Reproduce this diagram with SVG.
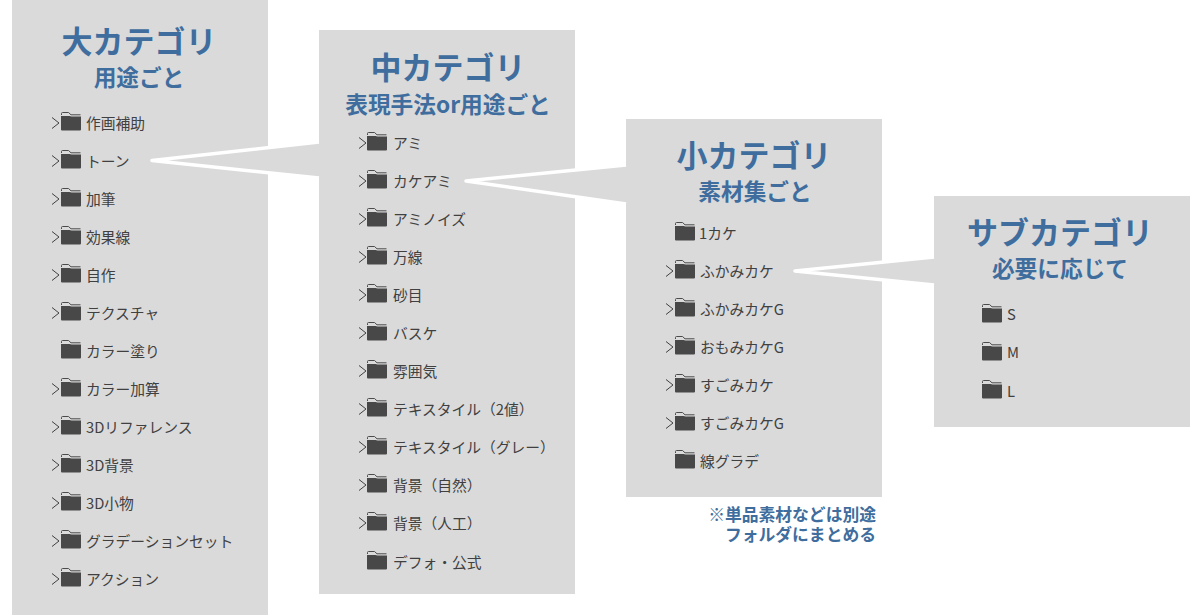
<svg xmlns="http://www.w3.org/2000/svg" width="1200" height="615" viewBox="0 0 1200 615">
<defs>
<style>
text{font-family:"Noto Sans CJK JP","Liberation Sans",sans-serif}
.p{fill:#dadada}
.h1{font-size:31px;font-weight:700;fill:#3e6d9e;text-anchor:middle}
.h2{font-size:22.700px;font-weight:700;fill:#3e6d9e;text-anchor:middle}
.t{font-size:14.750px;fill:#404040}
.n{font-size:16.800px;font-weight:700;fill:#3e6d9e;text-anchor:end}
.c{fill:none;stroke:#404040;stroke-width:1}
.tail{fill:#dadada;stroke:none}
.edge{fill:none;stroke:#fff;stroke-width:3.500;stroke-linecap:butt;stroke-linejoin:round}
</style>
<g id="f"><path d="M0.500 -7L0.500 -8.500Q0.500 -9.500 1.500 -9.500H7.500L10 -7.200H19.500" fill="none" stroke="#4b4b4b" stroke-width="1"/><path d="M0 -6H8.500L10.500 -5.500H20V7.500Q20 8.500 19 8.500H1Q0 8.500 0 7.500Z" fill="#484848"/></g>
<path id="a" class="c" d="M0 -5.500L7 0L0 5.500"/>
</defs>
<rect width="1200" height="615" fill="#fff"/>
<g id="panel-l"><rect class="p" x="12" y="0" width="256" height="615"/>
<text class="h1" x="139" y="53">大カテゴリ</text><text class="h2" x="139" y="86">用途ごと</text>
<g id="l-items">
<use href="#a" x="52" y="123"/><use href="#f" x="61" y="122"/><text class="t" x="86" y="129">作画補助</text>
<use href="#a" x="52" y="161"/><use href="#f" x="61" y="160"/><text class="t" x="86" y="167">トーン</text>
<use href="#a" x="52" y="199"/><use href="#f" x="61" y="198"/><text class="t" x="86" y="205">加筆</text>
<use href="#a" x="52" y="237"/><use href="#f" x="61" y="236"/><text class="t" x="86" y="243">効果線</text>
<use href="#a" x="52" y="275"/><use href="#f" x="61" y="274"/><text class="t" x="86" y="281">自作</text>
<use href="#a" x="52" y="313"/><use href="#f" x="61" y="312"/><text class="t" x="86" y="319">テクスチャ</text>
<use href="#f" x="61" y="350"/><text class="t" x="86" y="357">カラー塗り</text>
<use href="#a" x="52" y="389"/><use href="#f" x="61" y="388"/><text class="t" x="86" y="395">カラー加算</text>
<use href="#a" x="52" y="427"/><use href="#f" x="61" y="426"/><text class="t" x="86" y="433">3Dリファレンス</text>
<use href="#a" x="52" y="465"/><use href="#f" x="61" y="464"/><text class="t" x="86" y="471">3D背景</text>
<use href="#a" x="52" y="503"/><use href="#f" x="61" y="502"/><text class="t" x="86" y="509">3D小物</text>
<use href="#a" x="52" y="541"/><use href="#f" x="61" y="540"/><text class="t" x="86" y="547">グラデーションセット</text>
<use href="#a" x="52" y="579"/><use href="#f" x="61" y="578"/><text class="t" x="86" y="585">アクション</text>
</g></g>
<g id="panel-m"><rect class="p" x="319" y="30" width="256" height="564"/>
<text class="h1" x="448" y="79">中カテゴリ</text><text class="h2" x="448" y="113">表現手法or用途ごと</text>
<g id="m-items">
<use href="#a" x="359" y="143"/><use href="#f" x="367" y="142"/><text class="t" x="393" y="149">アミ</text>
<use href="#a" x="359" y="181"/><use href="#f" x="367" y="180"/><text class="t" x="393" y="187">カケアミ</text>
<use href="#a" x="359" y="219"/><use href="#f" x="367" y="218"/><text class="t" x="393" y="225">アミノイズ</text>
<use href="#a" x="359" y="257"/><use href="#f" x="367" y="256"/><text class="t" x="393" y="263">万線</text>
<use href="#a" x="359" y="295"/><use href="#f" x="367" y="294"/><text class="t" x="393" y="301">砂目</text>
<use href="#a" x="359" y="333"/><use href="#f" x="367" y="332"/><text class="t" x="393" y="339">バスケ</text>
<use href="#a" x="359" y="371"/><use href="#f" x="367" y="370"/><text class="t" x="393" y="377">雰囲気</text>
<use href="#a" x="359" y="409"/><use href="#f" x="367" y="408"/><text class="t" x="393" y="415">テキスタイル（2値）</text>
<use href="#a" x="359" y="447"/><use href="#f" x="367" y="446"/><text class="t" x="393" y="453">テキスタイル（グレー）</text>
<use href="#a" x="359" y="485"/><use href="#f" x="367" y="484"/><text class="t" x="393" y="491">背景（自然）</text>
<use href="#a" x="359" y="523"/><use href="#f" x="367" y="522"/><text class="t" x="393" y="529">背景（人工）</text>
<use href="#f" x="367" y="561"/><text class="t" x="393" y="568">デフォ・公式</text>
</g></g>
<g id="panel-s"><rect class="p" x="626" y="119" width="256" height="378"/>
<text class="h1" x="754" y="167">小カテゴリ</text><text class="h2" x="755" y="200">素材集ごと</text>
<g id="s-items">
<use href="#f" x="675" y="232"/><text class="t" x="699" y="239">1カケ</text>
<use href="#a" x="666" y="271"/><use href="#f" x="675" y="270"/><text class="t" x="700" y="277">ふかみカケ</text>
<use href="#a" x="666" y="309"/><use href="#f" x="675" y="308"/><text class="t" x="700" y="315">ふかみカケG</text>
<use href="#a" x="666" y="347"/><use href="#f" x="675" y="346"/><text class="t" x="700" y="353">おもみカケG</text>
<use href="#a" x="666" y="385"/><use href="#f" x="675" y="384"/><text class="t" x="700" y="391">すごみカケ</text>
<use href="#a" x="666" y="423"/><use href="#f" x="675" y="422"/><text class="t" x="700" y="429">すごみカケG</text>
<use href="#f" x="675" y="460"/><text class="t" x="700" y="467">線グラデ</text>
</g></g>
<g id="panel-b"><rect class="p" x="934" y="196" width="256" height="231"/>
<text class="h1" x="1060" y="244">サブカテゴリ</text><text class="h2" x="1060" y="277">必要に応じて</text>
<g id="b-items">
<use href="#f" x="982" y="314"/><text class="t" x="1007" y="320">S</text>
<use href="#f" x="982" y="352"/><text class="t" x="1007" y="358">M</text>
<use href="#f" x="982" y="390"/><text class="t" x="1007" y="397">L</text>
</g></g>
<g id="connectors">
<path class="tail" d="M320 142L152 160.500L320 178Z"/>
<path class="edge" d="M319 142L152 160.500L319 178"/>
<path class="tail" d="M627 165L466 181L627 204Z"/>
<path class="edge" d="M626 165L466 181L626 204"/>
<path class="tail" d="M935 257L795 271L935 285Z"/>
<path class="edge" d="M934 257L795 271L934 285"/>
</g>
<g id="note"><text class="n" x="876" y="521">※単品素材などは別途</text><text class="n" x="876" y="541">フォルダにまとめる</text></g>
</svg>
